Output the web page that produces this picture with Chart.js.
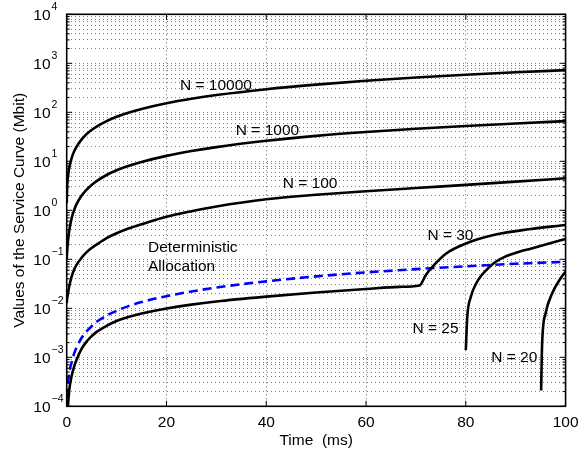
<!DOCTYPE html>
<html>
<head>
<meta charset="utf-8">
<script src="https://cdn.jsdelivr.net/npm/chart.js@4.4.1/dist/chart.umd.min.js"></script>
<style>
html,body{margin:0;padding:0;background:#ffffff;}
#wrap{width:586px;height:450px;position:relative;}
canvas{display:block;}
</style>
</head>
<body>
<div id="wrap"><canvas id="c" width="586" height="450" style="width:586px;height:450px"></canvas></div>
<script>
// ---- data (time in ms, value in Mbit) ----
const timeN10000  = [0, 0.1, 0.25, 0.5, 1, 1.5, 2, 3, 4, 5, 6, 8, 10, 12.5, 15, 20, 25, 30, 40, 50, 60, 70, 80, 90, 100];
const valueN10000 = [1.4, 3.2, 4.9, 7.3, 11.8, 16, 20, 28, 36, 43.5, 51, 66, 81, 99, 117, 153, 189, 225, 296, 367, 440, 512, 585, 655, 725];

const timeN1000  = [0, 0.1, 0.25, 0.5, 1, 1.5, 2, 3, 4, 5, 6, 8, 10, 12.5, 15, 20, 25, 30, 40, 50, 60, 70, 80, 90, 100];
const valueN1000 = [0.1, 0.15, 0.23, 0.38, 0.7, 1.02, 1.35, 2.0, 2.65, 3.3, 3.95, 5.25, 6.55, 8.1, 9.7, 12.9, 16.2, 19.5, 26.2, 33, 39.5, 46, 52.5, 59, 66];

const timeN100  = [0, 0.1, 0.25, 0.5, 1, 1.5, 2, 3, 4, 5, 6, 8, 10, 12.5, 15, 20, 25, 30, 40, 50, 60, 70, 80, 90, 100];
const valueN100 = [0.0128, 0.016, 0.02, 0.028, 0.045, 0.062, 0.078, 0.108, 0.14, 0.17, 0.2, 0.27, 0.34, 0.43, 0.52, 0.74, 0.96, 1.2, 1.68, 2.07, 2.45, 2.85, 3.3, 3.85, 4.5];

const timeN30  = [0.25, 0.5, 1, 1.5, 2, 3, 4, 5, 6, 8, 10, 12.5, 15, 20, 25, 30, 40, 50, 60, 66.7, 70.7, 72, 73.3, 76, 80, 86, 92.7, 100];
const valueN30 = [1e-4, 2.1e-4, 4.2e-4, 6.5e-4, 9e-4, 1.5e-3, 2.1e-3, 2.7e-3, 3.3e-3, 4.4e-3, 5.5e-3, 6.7e-3, 7.8e-3, 0.0099, 0.0119, 0.0138, 0.0173, 0.021, 0.0248, 0.0274, 0.0292, 0.048, 0.07, 0.13, 0.21, 0.32, 0.41, 0.50];

const timeN25  = [80, 80.3, 81, 82, 83, 84.5, 86, 88, 90.7, 93, 96, 100];
const valueN25 = [1.4e-3, 6.8e-3, 0.017, 0.031, 0.045, 0.066, 0.089, 0.115, 0.143, 0.165, 0.20, 0.26];

const timeN20  = [95.1, 95.3, 96, 97.3, 99, 100];
const valueN20 = [2.1e-4, 1.9e-3, 7.9e-3, 0.020, 0.041, 0.056];

const timeDet  = [0, 0.25, 0.5, 1, 1.5, 2, 3, 4, 5, 6, 8, 10, 12.5, 15, 20, 25, 30, 40, 50, 60, 70, 80, 90, 100];
const valueDet = [1.5e-4, 3e-4, 4.8e-4, 8e-4, 1.2e-3, 1.6e-3, 2.5e-3, 3.4e-3, 4.3e-3, 5.3e-3, 7.1e-3, 8.9e-3, 0.0112, 0.0134, 0.0177, 0.022, 0.0265, 0.0355, 0.0448, 0.054, 0.063, 0.072, 0.081, 0.089];

// axis ticks
const xTickValues = [0, 20, 40, 60, 80, 100];
const yExponents  = [-4, -3, -2, -1, 0, 1, 2, 3, 4];

// curve annotations (text, anchor time, anchor value)
const labelTexts  = ['N = 10000', 'N = 1000', 'N = 100', 'Deterministic', 'Allocation', 'N = 30', 'N = 25', 'N = 20'];
const labelTimes  = [22.7, 33.9, 43.3, 16.3, 16.3, 72.3, 69.3, 85.1];
const labelValues = [344, 41.5, 3.44, 0.17, 0.0697, 0.30, 3.8e-3, 9.7e-4];

// ---- build ----
function pts(ts, vs) { return ts.map((t, i) => ({x: t, y: vs[i]})); }

const yTickValues = [];
for (let e = -4; e < 4; e++) {
  for (let s = 1; s <= 9; s++) yTickValues.push(parseFloat((s * Math.pow(10, e)).toPrecision(3)));
}
yTickValues.push(1e4);

const FONT = "'Liberation Sans', Arial, Helvetica, sans-serif";
Chart.defaults.font.family = FONT;
Chart.defaults.color = '#000';

function solid(label, ts, vs) {
  return {label, data: pts(ts, vs), borderColor: '#000000', borderWidth: 2.6,
    pointRadius: 0, fill: false, tension: 0.4, cubicInterpolationMode: 'monotone'};
}

const datasets = [
  solid('N = 10000', timeN10000, valueN10000),
  solid('N = 1000', timeN1000, valueN1000),
  solid('N = 100', timeN100, valueN100),
  solid('N = 30', timeN30, valueN30),
  solid('N = 25', timeN25, valueN25),
  solid('N = 20', timeN20, valueN20),
  {label: 'Deterministic Allocation', data: pts(timeDet, valueDet), borderColor: '#0000ff', borderWidth: 2.6,
    borderDash: [9, 5], pointRadius: 0, fill: false, tension: 0.4, cubicInterpolationMode: 'monotone'}
];

const overlay = {
  id: 'overlay',
  afterDatasetsDraw(chart) {
    const {ctx, chartArea: a, scales: {x, y}} = chart;
    ctx.save();
    ctx.strokeStyle = '#000';
    ctx.lineWidth = 1;
    const seg = (x1, y1, x2, y2) => { ctx.beginPath(); ctx.moveTo(x1, y1); ctx.lineTo(x2, y2); ctx.stroke(); };
    // y tick marks (inward, both sides)
    yTickValues.forEach(v => {
      const py = y.getPixelForValue(v);
      const lg = Math.log10(v);
      const major = Math.abs(lg - Math.round(lg)) < 1e-6;
      const len = major ? 5.5 : 3;
      seg(a.left, py, a.left + len, py);
      seg(a.right, py, a.right - len, py);
    });
    // x tick marks (inward, bottom and top)
    xTickValues.forEach(v => {
      const px = x.getPixelForValue(v);
      seg(px, a.bottom, px, a.bottom - 5.5);
      seg(px, a.top, px, a.top + 5.5);
    });
    // box
    ctx.lineWidth = 1.6;
    ctx.strokeRect(a.left, a.top, a.right - a.left, a.bottom - a.top);
    // y labels 10^e
    ctx.fillStyle = '#000';
    yExponents.forEach(e => {
      const py = y.getPixelForValue(Math.pow(10, e));
      ctx.font = '15.5px ' + FONT;
      ctx.textAlign = 'right';
      ctx.textBaseline = 'middle';
      ctx.fillText('10', 50.5, py + 1);
      ctx.font = '10.5px ' + FONT;
      ctx.textAlign = 'left';
      ctx.fillText(e < 0 ? '\u2212' + Math.abs(e) : String(e), 51.5, py - 7);
    });
    // curve annotations
    ctx.font = '15.5px ' + FONT;
    ctx.textAlign = 'left';
    ctx.textBaseline = 'middle';
    labelTexts.forEach((t, i) => {
      ctx.fillText(t, x.getPixelForValue(labelTimes[i]), y.getPixelForValue(labelValues[i]));
    });
    ctx.restore();
  }
};

new Chart(document.getElementById('c'), {
  type: 'line',
  data: {datasets},
  options: {
    responsive: false,
    animation: false,
    events: [],
    layout: {padding: {left: 0, top: 14.3, right: 19.3, bottom: 0}},
    plugins: {legend: {display: false}, tooltip: {enabled: false}, title: {display: false}},
    scales: {
      x: {
        type: 'linear', min: 0, max: 100,
        afterFit: s => { s.height = 43.7; },
        ticks: {stepSize: 20, padding: 7.5, font: {size: 15.5}, color: '#000', maxRotation: 0},
        grid: {color: 'rgba(0,0,0,0.6)', lineWidth: 1, drawTicks: false},
        border: {display: false, dash: [1, 3]},
        title: {display: true, text: 'Time  (ms)', font: {size: 15.5}, color: '#000', padding: {top: 0, bottom: 0}}
      },
      y: {
        type: 'logarithmic', min: 1e-4, max: 1e4,
        afterFit: s => { s.width = 66.7; },
        afterBuildTicks: s => { s.ticks = yTickValues.map(v => ({value: v})); },
        ticks: {display: false},
        grid: {color: 'rgba(0,0,0,0.5)', lineWidth: 1, drawTicks: false},
        border: {display: false, dash: [1, 3]},
        title: {display: true, text: 'Values of the Service Curve (Mbit)', font: {size: 15.5}, color: '#000', padding: {top: 10, bottom: 0}}
      }
    }
  },
  plugins: [overlay]
});
</script>
</body>
</html>
